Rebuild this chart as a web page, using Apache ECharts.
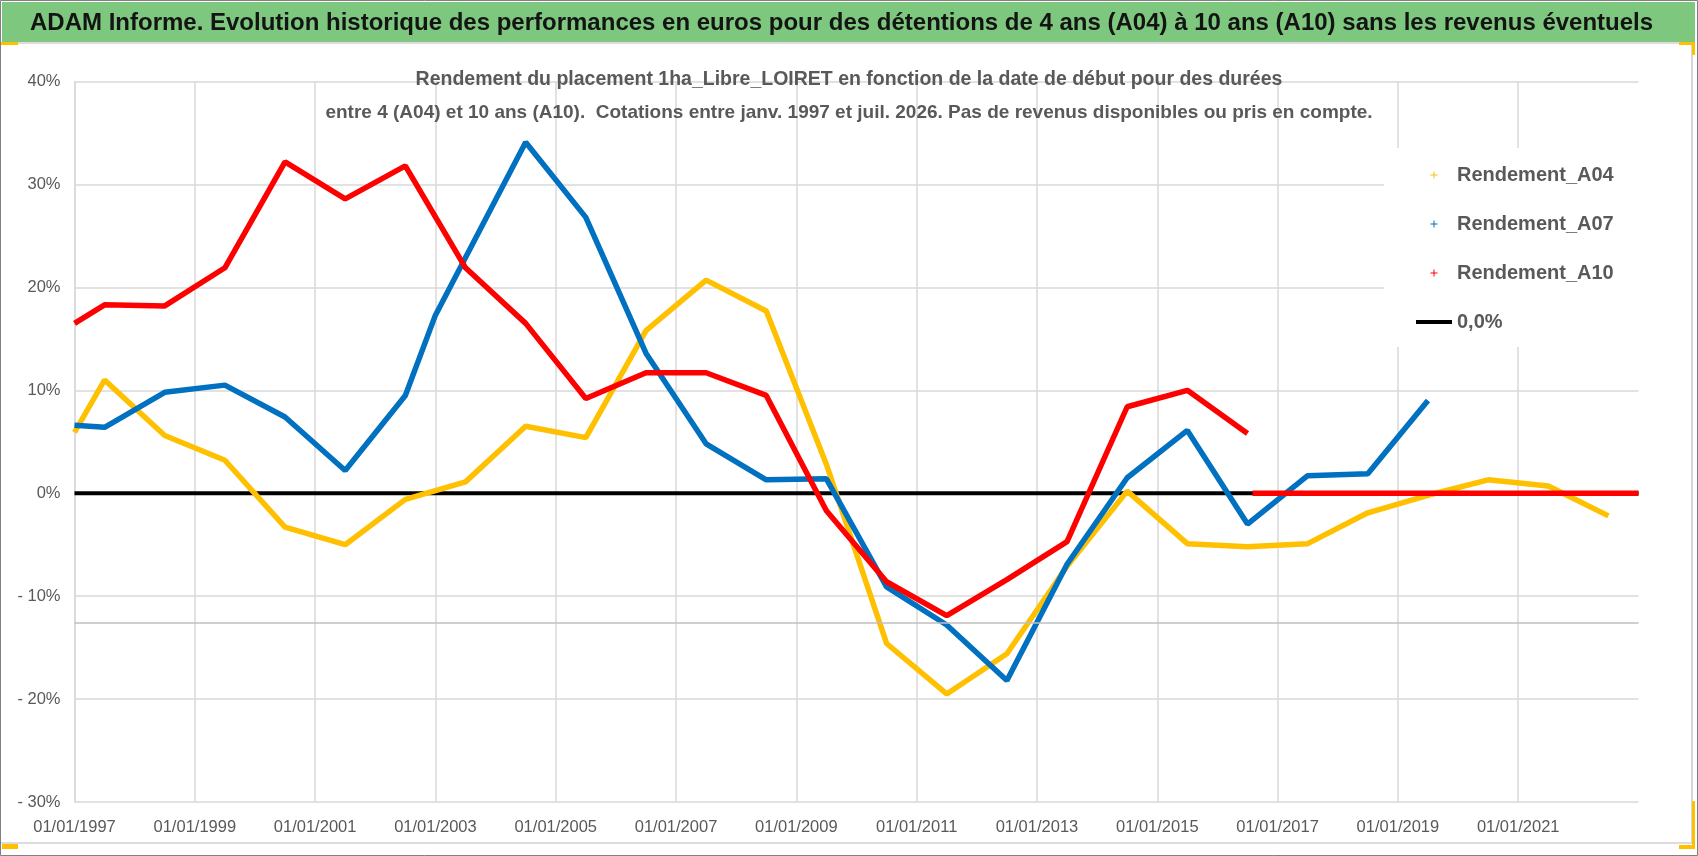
<!DOCTYPE html>
<html>
<head>
<meta charset="utf-8">
<title>ADAM Informe - 1ha_Libre_LOIRET</title>
<script src="https://cdn.jsdelivr.net/npm/echarts@6/dist/echarts.min.js"></script>
<style>
  html, body { margin: 0; padding: 0; background: #fff; }
  #chart { width: 1698px; height: 856px; }
</style>
</head>
<body>
<div id="chart"></div>
<script>
// dates are 'YYYY-MM' (first of month), values in %
var datesA04 = ['1997-01','1997-07','1998-07','1999-07','2000-07','2001-07','2002-07','2003-07','2004-07','2005-07',
  '2006-07','2007-07','2008-07','2009-07','2010-07','2011-07','2012-07','2013-07','2014-07','2015-07',
  '2016-07','2017-07','2018-07','2019-07','2020-07','2021-07','2022-07'];
var valuesA04 = [5.9, 11.0, 5.6, 3.2, -3.3, -5.0, -0.6, 1.1, 6.5, 5.4,
  15.8, 20.7, 17.7, 2.8, -14.6, -19.5, -15.6, -7.1, 0.2, -4.9,
  -5.2, -4.9, -1.9, -0.2, 1.3, 0.7, -2.2];

var datesA07 = ['1997-01','1997-07','1998-07','1999-07','2000-07','2001-07','2002-07','2003-01','2004-07','2005-07',
  '2006-07','2007-07','2008-07','2009-07','2010-07','2011-07','2012-07','2013-07','2014-07','2015-07',
  '2016-07','2017-07','2018-07','2019-07'];
var valuesA07 = [6.6, 6.4, 9.8, 10.5, 7.4, 2.2, 9.5, 17.3, 34.1, 26.8,
  13.6, 4.8, 1.3, 1.4, -9.1, -12.8, -18.2, -6.9, 1.5, 6.1,
  -3.0, 1.7, 1.9, 9.0];

var datesA10 = ['1997-01','1997-07','1998-07','1999-07','2000-07','2001-07','2002-07','2003-07','2004-07','2005-07',
  '2006-07','2007-07','2008-07','2009-07','2010-07','2011-07','2012-07','2013-07','2014-07','2015-07',
  '2016-07'];
var valuesA10 = [16.5, 18.3, 18.2, 21.9, 32.2, 28.6, 31.8, 21.9, 16.5, 9.2,
  11.7, 11.7, 9.5, -1.7, -8.6, -11.9, -8.4, -4.7, 8.4, 10.0,
  5.8];
// A10 has no result after mid-2016: plotted as 0
var datesA10Empty = ['2016-08', '2023-01'];
var valuesA10Empty = [0, 0];

var datesZero = ['1997-01', '2023-01'];
var valuesZero = [0, 0];

var legendNames = ['Rendement_A04', 'Rendement_A07', 'Rendement_A10', '0,0%'];
var seriesColors = ['#FFC000', '#0070C0', '#FF0000', '#000000'];

var yTicks = [-30, -20, -10, 0, 10, 20, 30, 40];

var FONT = "'Liberation Sans Narrow', 'Liberation Sans', sans-serif";
var GREY = '#595959';
var GRIDC = '#d9d9d9';

// years since 01/01/1997
function t(s) {
  var p = s.split('-');
  return (+p[0] - 1997) + (+p[1] - 1) / 12;
}
function pairs(dates, vals) {
  return dates.map(function (d, i) { return [t(d), vals[i]]; });
}

var a10 = pairs(datesA10, valuesA10);
a10.push([t(datesA10Empty[0]), '-']);
a10 = a10.concat(pairs(datesA10Empty, valuesA10Empty));

var plusIcon = 'path://M3,0H4V3H7V4H4V7H3V4H0V3H3Z';
var lineIcon = 'path://M0,0H36V4H0Z';

var chart = echarts.init(document.getElementById('chart'));

var option = {
  backgroundColor: '#fff',
  animation: false,
  title: [{
    text: 'ADAM Informe. Evolution historique des performances en euros pour des détentions de 4 ans (A04) à 10 ans (A10) sans les revenus éventuels',
    left: 30, top: 9, padding: 0,
    textStyle: { fontFamily: FONT, fontSize: 24, fontWeight: 'bold', color: '#141414', lineHeight: 28 }
  }, {
    text: 'Rendement du placement 1ha_Libre_LOIRET en fonction de la date de début pour des durées',
    left: 'center', top: 68, padding: 0,
    textStyle: { fontFamily: FONT, fontSize: 19.5, fontWeight: 'bold', color: GREY, lineHeight: 24 }
  }, {
    text: 'entre 4 (A04) et 10 ans (A10).  Cotations entre janv. 1997 et juil. 2026. Pas de revenus disponibles ou pris en compte.',
    left: 'center', top: 101, padding: 0,
    textStyle: { fontFamily: FONT, fontSize: 19, fontWeight: 'bold', color: GREY, lineHeight: 24 }
  }],
  legend: {
    orient: 'vertical',
    left: 1384, top: 148,
    padding: [15, 60, 13, 32],
    backgroundColor: '#fff',
    itemWidth: 36, itemHeight: 7,
    itemGap: 25,
    textStyle: { fontFamily: FONT, fontSize: 20, fontWeight: 'bold', color: GREY, lineHeight: 24 },
    data: legendNames.map(function (n, i) {
      return { name: n, icon: i < 3 ? plusIcon : lineIcon };
    })
  },
  grid: { left: 74.5, right: 59.5, top: 81.5, bottom: 54 },
  xAxis: {
    type: 'value', min: 0, max: 26, interval: 2,
    axisLine: { show: true, lineStyle: { color: GRIDC, width: 1.5 } },
    axisTick: { show: false },
    splitLine: { show: true, showMaxLine: false, lineStyle: { color: GRIDC, width: 1.5 } },
    axisLabel: {
      margin: 17, fontFamily: FONT, fontSize: 16.5, color: GREY, showMaxLabel: false,
      formatter: function (v) { return v >= 26 ? '' : '01/01/' + (1997 + v); }
    }
  },
  yAxis: {
    type: 'value', min: yTicks[0], max: yTicks[yTicks.length - 1], interval: 10,
    axisLine: { show: true, lineStyle: { color: GRIDC, width: 1.5 } },
    axisTick: { show: false },
    splitLine: { show: true, lineStyle: { color: GRIDC, width: 1.5 } },
    axisLabel: {
      margin: 14, fontFamily: FONT, fontSize: 16.5, color: GREY,
      formatter: function (v) { return v < 0 ? '- ' + (-v) + '%' : v + '%'; }
    }
  },
  series: [{
    name: '0,0%', type: 'line', z: 1, symbol: 'none',
    data: pairs(datesZero, valuesZero),
    itemStyle: { color: seriesColors[3] },
    lineStyle: { color: seriesColors[3], width: 4 },
    markLine: {
      silent: true, symbol: ['none', 'none'], label: { show: false },
      lineStyle: { color: '#bfbfbf', width: 1.5, type: 'solid' },
      data: [{ yAxis: -12.6 }]
    }
  }, {
    name: legendNames[0], type: 'line', z: 2, symbol: 'none',
    data: pairs(datesA04, valuesA04),
    itemStyle: { color: seriesColors[0] },
    lineStyle: { color: seriesColors[0], width: 5.5 }
  }, {
    name: legendNames[1], type: 'line', z: 3, symbol: 'none',
    data: pairs(datesA07, valuesA07),
    itemStyle: { color: seriesColors[1] },
    lineStyle: { color: seriesColors[1], width: 5.5 }
  }, {
    name: legendNames[2], type: 'line', z: 4, symbol: 'none',
    data: a10,
    itemStyle: { color: seriesColors[2] },
    lineStyle: { color: seriesColors[2], width: 5.5 }
  }],
  graphic: [
    { type: 'rect', z: -10, shape: { x: 2, y: 2, width: 1693, height: 40 }, style: { fill: '#7dc77e' } },
    { type: 'line', shape: { x1: 0, y1: 43, x2: 1692, y2: 43 }, style: { stroke: '#d0d0d0', lineWidth: 1.5 } },
    { type: 'line', shape: { x1: 1692, y1: 43, x2: 1692, y2: 843 }, style: { stroke: '#c8c8c8', lineWidth: 1.5 } },
    { type: 'line', shape: { x1: 0, y1: 843, x2: 1692, y2: 843 }, style: { stroke: '#d0d0d0', lineWidth: 1.5 } },
    { type: 'rect', shape: { x: 0.5, y: 0.5, width: 1697, height: 855 }, style: { fill: 'none', stroke: '#808080', lineWidth: 1 } },
    { type: 'rect', shape: { x: 1, y: 42, width: 17, height: 3 }, style: { fill: '#FFC000' } },
    { type: 'rect', shape: { x: 2, y: 844, width: 16, height: 5 }, style: { fill: '#FFC000' } },
    { type: 'rect', shape: { x: 1679, y: 42, width: 16, height: 3 }, style: { fill: '#FFC000' } },
    { type: 'rect', shape: { x: 1692, y: 42, width: 3, height: 13 }, style: { fill: '#FFC000' } },
    { type: 'rect', shape: { x: 1692, y: 801, width: 3, height: 48 }, style: { fill: '#FFC000' } },
    { type: 'rect', shape: { x: 1679, y: 845, width: 16, height: 4 }, style: { fill: '#FFC000' } }
  ]
};

chart.setOption(option);
</script>
</body>
</html>
